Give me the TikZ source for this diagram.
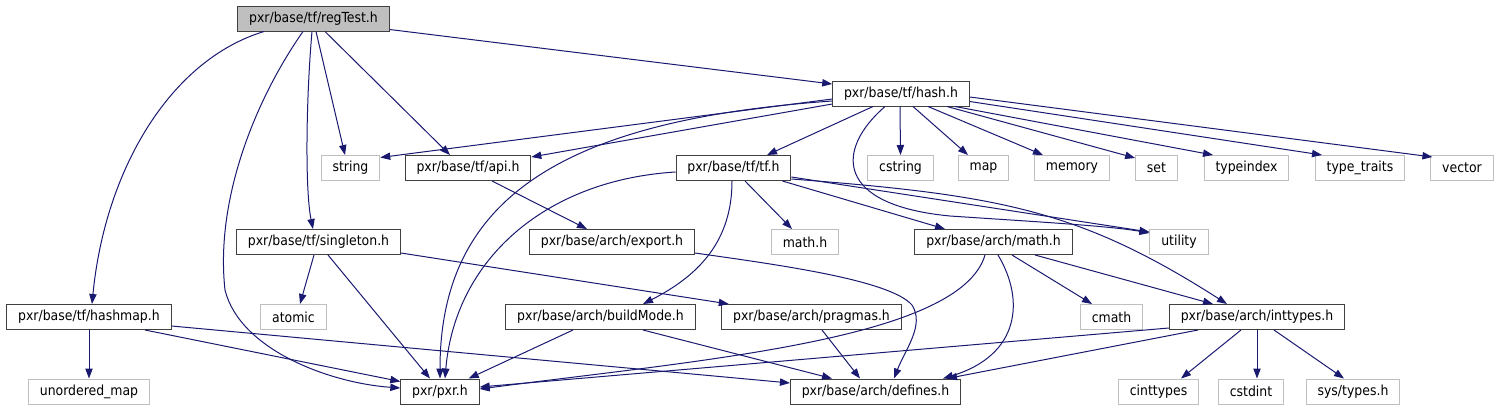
\documentclass[tikz,border=0pt]{standalone}
\usepackage{fontspec}
\setmainfont{DejaVu Sans Condensed}
\usepackage{tikz}
\usetikzlibrary{
  arrows.meta,
  calc
}
\usepackage{xcolor}
\definecolor{EdgeBlue}{HTML}{191970}
\definecolor{BoxEdge}{HTML}{404040}
\definecolor{SysEdge}{HTML}{BFBFBF}
\definecolor{FocusFill}{HTML}{BFBFBF}

\begin{document}
\begin{tikzpicture}[
  x=0.75pt,
  y=-0.75pt,
  font=\fontsize{10.4}{12}\selectfont,
  >={Triangle[length=7.5pt,width=5.5pt]},
  header/.style={
    draw=BoxEdge,
    fill=white,
    line width=0.75pt,
    minimum height=18.75pt,
    inner xsep=8.5pt,
    inner ysep=0pt
  },
  sysheader/.style={header,draw=SysEdge},
  focus/.style={header,fill=FocusFill},
  dep/.style={->,draw=EdgeBlue,line width=0.75pt}
]
\useasboundingbox (0,0) rectangle (1495,411);

% Row 1: the file itself.
\node[focus] (regtest) at (313.5,18.5) {pxr/base/tf/regTest.h};

% Row 2.
\node[header] (hash) at (901,93.5) {pxr/base/tf/hash.h};

% Row 3.
\node[sysheader] (string) at (350.5,168) {string};
\node[header] (api) at (468,168) {pxr/base/tf/api.h};
\node[header] (tf) at (733.5,168) {pxr/base/tf/tf.h};
\node[sysheader] (cstring) at (900.5,168) {cstring};
\node[sysheader] (map) at (983.5,168) {map};
\node[sysheader] (memory) at (1072,168) {memory};
\node[sysheader] (set) at (1156.5,168) {set};
\node[sysheader] (typeindex) at (1246.5,168) {typeindex};
\node[sysheader] (typetraits) at (1360,168) {type\_traits};
\node[sysheader] (vector) at (1462,168) {vector};

% Row 4.
\node[header] (singleton) at (318.5,242) {pxr/base/tf/singleton.h};
\node[header] (export) at (612,242) {pxr/base/arch/export.h};
\node[sysheader] (mathh) at (805,242) {math.h};
\node[header] (archmath) at (993.5,242) {pxr/base/arch/math.h};
\node[sysheader] (utility) at (1179,242) {utility};

% Row 5.
\node[header] (hashmap) at (89,317) {pxr/base/tf/hashmap.h};
\node[sysheader] (atomic) at (293.5,317) {atomic};
\node[header] (buildmode) at (600.5,317) {pxr/base/arch/buildMode.h};
\node[header] (pragmas) at (811.5,317) {pxr/base/arch/pragmas.h};
\node[sysheader] (cmath) at (1111.5,317) {cmath};
\node[header] (inttypes) at (1257,317) {pxr/base/arch/inttypes.h};

% Row 6.
\node[sysheader] (unorderedmap) at (89,391.5) {unordered\_map};
\node[header] (pxr) at (440,391.5) {pxr/pxr.h};
\node[header] (defines) at (875.5,391.5) {pxr/base/arch/defines.h};
\node[sysheader] (cinttypes) at (1158.5,391.5) {cinttypes};
\node[sysheader] (cstdint) at (1251,391.5) {cstdint};
\node[sysheader] (systypes) at (1353,391.5) {sys/types.h};

% regTest.h includes
\draw[dep] ($(regtest.south east)+(0,-2)$) -- ($(hash.west)+(0,-9.5)$);
\draw[dep] ($(regtest.south)+(-49.5,0)$)
  .. controls (170,60) and (105,170) .. ($(hashmap.north)+(3,0)$);
\draw[dep] ($(regtest.south)+(-10.5,0)$)
  .. controls (255,100) and (215,200) .. (225,290)
  .. controls (240,350) and (330,383) .. ($(pxr.west)+(0,-3.5)$);
\draw[dep] ($(regtest.south)+(-1.5,0)$)
  .. controls (306,100) and (305,190) .. ($(singleton.north)+(-5.5,0)$);
\draw[dep] ($(regtest.south)+(2.5,0)$) -- ($(string.north)+(-5.5,0)$);
\draw[dep] ($(regtest.south)+(11.5,0)$) -- ($(api.north)+(-18,0)$);

% hash.h includes
\draw[dep] ($(hash.west)+(0,5.5)$) -- ($(string.east)+(0,-10.5)$);
\draw[dep] ($(hash.west)+(0,10.5)$) -- ($(api.north east)+(0,2)$);
\draw[dep] ($(hash.west)+(0,7.5)$)
  .. controls (560,120) and (440,200) .. (pxr.north);
\draw[dep] ($(hash.south)+(-28,0)$) -- ($(tf.north)+(33.5,0)$);
\draw[dep] ($(hash.south)+(-1,0)$) -- (cstring.north);
\draw[dep] ($(hash.south)+(12,0)$) -- ($(map.north)+(-15.5,0)$);
\draw[dep] ($(hash.south)+(27,0)$) -- ($(memory.north)+(-29,0)$);
\draw[dep] ($(hash.south)+(46,0)$) -- ($(set.north west)+(0,3)$);
\draw[dep] ($(hash.south)+(54,0)$) -- ($(typeindex.north)+(-33.5,0)$);
\draw[dep] ($(hash.south east)+(0,-5)$) -- ($(typetraits.north)+(-38,0)$);
\draw[dep] ($(hash.east)+(0,3.5)$) -- ($(vector.north west)+(2,2)$);
\draw[dep] ($(hash.south)+(-16,0)$)
  .. controls (835,150) and (835,205) .. (950,216)
  .. controls (1040,222) and (1110,226) .. ($(utility.west)+(0,-9)$);

% tf.h includes
\draw[dep] ($(tf.west)+(0,4)$)
  .. controls (545,180) and (455,260) .. ($(pxr.north)+(5,0)$);
\draw[dep] ($(tf.south)+(-1.5,0)$)
  .. controls (732,240) and (700,275) .. ($(buildmode.north)+(42.5,0)$);
\draw[dep] ($(tf.south)+(11.5,0)$) -- ($(mathh.north)+(-13,0)$);
\draw[dep] ($(tf.south east)+(-9,0)$) -- ($(archmath.north)+(-48.5,0)$);
\draw[dep] ($(tf.east)+(0,9)$) -- ($(utility.west)+(0,-10)$);
\draw[dep] ($(tf.east)+(0,11)$)
  .. controls (1000,195) and (1080,210) .. ($(inttypes.north)+(-30,0)$);

% api.h and export.h
\draw[dep] ($(api.south)+(24,0)$) -- ($(export.north)+(-25,0)$);
\draw[dep] ($(export.south east)+(0,-2)$)
  .. controls (780,265) and (890,280) .. (912,305)
  .. controls (925,325) and (905,350) .. ($(defines.north)+(18.5,0)$);

% singleton.h includes
\draw[dep] ($(singleton.south)+(-4.5,0)$) -- ($(atomic.north)+(6.5,0)$);
\draw[dep] ($(singleton.south)+(9.5,0)$) -- ($(pxr.north)+(-10,0)$);
\draw[dep] ($(singleton.south east)+(0,-2)$) -- ($(pragmas.north west)+(7.5,0)$);

% hashmap.h includes
\draw[dep] (hashmap.south) -- (unorderedmap.north);
\draw[dep] ($(hashmap.south)+(56,0)$) -- ($(pxr.north west)+(0,3)$);
\draw[dep] ($(hashmap.east)+(0,9)$) -- ($(defines.west)+(0,-8.5)$);

% buildMode.h and pragmas.h
\draw[dep] ($(buildmode.south)+(-27.5,0)$) -- ($(pxr.north east)+(-11,0)$);
\draw[dep] ($(buildmode.south)+(42.5,0)$) -- ($(defines.north)+(-43.5,0)$);
\draw[dep] ($(pragmas.south)+(10.5,0)$) -- ($(defines.north)+(-15.5,0)$);

% arch/math.h includes
\draw[dep] ($(archmath.south)+(-8.5,0)$)
  .. controls (960,340) and (700,360) .. ($(pxr.east)+(0,-2.5)$);
\draw[dep] ($(archmath.south)+(4.5,0)$)
  .. controls (1025,300) and (1020,355) .. ($(defines.north east)+(-18,0)$);
\draw[dep] ($(archmath.south)+(18.5,0)$) -- ($(cmath.north)+(-19.5,0)$);
\draw[dep] ($(archmath.south)+(41.5,0)$) -- ($(inttypes.north)+(-44,0)$);

% inttypes.h includes
\draw[dep] ($(inttypes.south west)+(0,-2)$) -- ($(pxr.east)+(0,-4.5)$);
\draw[dep] ($(inttypes.south)+(-59,0)$) -- ($(defines.north east)+(-14,0)$);
\draw[dep] ($(inttypes.south)+(-16,0)$) -- ($(cinttypes.north)+(22.5,0)$);
\draw[dep] (inttypes.south) -- ($(cstdint.north)+(6,0)$);
\draw[dep] ($(inttypes.south)+(17,0)$) -- ($(systypes.north)+(-9,0)$);
\end{tikzpicture}
\end{document}
